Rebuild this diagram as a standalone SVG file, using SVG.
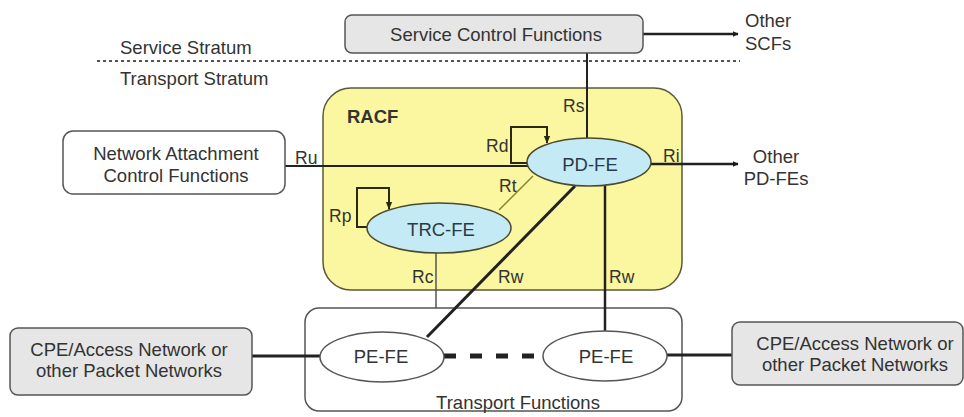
<svg xmlns="http://www.w3.org/2000/svg" width="964" height="417" viewBox="0 0 964 417">
<defs>
<marker id="arr" viewBox="0 0 10 10" refX="9" refY="5" markerWidth="6" markerHeight="6" orient="auto" markerUnits="userSpaceOnUse">
<path d="M0,0 L10,5 L0,10 z" fill="#1a1a1a"/>
</marker>
<marker id="arrs" viewBox="0 0 10 10" refX="9" refY="5" markerWidth="8" markerHeight="8" orient="auto" markerUnits="userSpaceOnUse">
<path d="M0,1 L10,5 L0,9 z" fill="#2a2a10"/>
</marker>
<style>
text{font-family:"Liberation Sans",Arial,sans-serif;font-size:18.5px;fill:#333;}
.lbl{font-size:17.5px;}
.mid{text-anchor:middle;}
.box{stroke:#555;stroke-width:1.5;}
.gray{fill:#e6e6e6;}
.white{fill:#fff;}
.ell{fill:#c4ebf5;stroke:#4a4a30;stroke-width:1.5;}
.pe{fill:#fff;stroke:#555;stroke-width:1.5;}
.ln{fill:none;stroke:#222;}
</style>
</defs>
<rect width="964" height="417" fill="#fff"/>

<g id="strata">
<line x1="97" y1="61" x2="740" y2="61" stroke="#555" stroke-width="2" stroke-dasharray="3 3"/>
<text x="120" y="54">Service Stratum</text>
<text x="120" y="85">Transport Stratum</text>
</g>

<g id="racf">
<rect x="323" y="88" width="359" height="202" rx="28" fill="#fbf6a0" stroke="#5a5a3a" stroke-width="1.5"/>
<text x="347" y="123" style="font-weight:bold">RACF</text>
</g>

<g id="transport">
<rect x="305" y="308" width="377" height="103" rx="14" class="box white"/>
<text x="518" y="409" class="mid">Transport Functions</text>
</g>

<g id="connectors">
<line x1="643" y1="34" x2="738" y2="34" class="ln" stroke-width="2.5" marker-end="url(#arr)"/>
<line x1="587" y1="53" x2="587" y2="139" class="ln" stroke-width="2"/>
<line x1="285" y1="166" x2="528" y2="166" class="ln" stroke-width="2"/>
<path d="M528,163 H511 V127 H547 V143" fill="none" stroke="#2a2a10" stroke-width="2" marker-end="url(#arrs)"/>
<path d="M368,227 H357 V188 H389 V209" fill="none" stroke="#2a2a10" stroke-width="2" marker-end="url(#arrs)"/>
<line x1="651" y1="164" x2="738" y2="164" class="ln" stroke-width="2.5" marker-end="url(#arr)"/>
<line x1="533" y1="176" x2="499" y2="210" stroke="#8a7f2a" stroke-width="1.5"/>
<line x1="575" y1="186" x2="427" y2="337" class="ln" stroke-width="3"/>
<line x1="605" y1="186" x2="605" y2="331" class="ln" stroke-width="2.5"/>
<line x1="436" y1="253" x2="436" y2="308" stroke="#555" stroke-width="1.5"/>
<line x1="252" y1="356" x2="320" y2="356" class="ln" stroke-width="3"/>
<line x1="667" y1="355" x2="732" y2="355" class="ln" stroke-width="3"/>
<line x1="444" y1="356" x2="543" y2="356" class="ln" stroke-width="5" stroke-dasharray="12 14"/>
<text x="295" y="164" class="lbl">Ru</text>
<text x="563" y="112" class="lbl">Rs</text>
<text x="486" y="152" class="lbl">Rd</text>
<text x="663" y="162" class="lbl">Ri</text>
<text x="499" y="192" class="lbl">Rt</text>
<text x="329" y="222" class="lbl">Rp</text>
<text x="412" y="283" class="lbl">Rc</text>
<text x="498" y="283" class="lbl">Rw</text>
<text x="609" y="283" class="lbl">Rw</text>
</g>

<g id="scf">
<rect x="345" y="15" width="298" height="38" rx="7" class="box gray"/>
<text x="496" y="41" class="mid">Service Control Functions</text>
</g>

<g id="other-scfs">
<text x="745" y="27">Other</text>
<text x="745" y="50">SCFs</text>
</g>

<g id="other-pdfes">
<text x="776" y="163" class="mid">Other</text>
<text x="776" y="185" class="mid">PD-FEs</text>
</g>

<g id="nacf">
<rect x="63" y="131" width="222" height="63" rx="10" class="box white"/>
<text x="176" y="160" class="mid">Network Attachment</text>
<text x="176" y="182" class="mid">Control Functions</text>
</g>

<g id="pd-fe">
<ellipse cx="589" cy="162" rx="62" ry="24" class="ell"/>
<text x="590" y="171" class="mid" style="fill:#2a3a4a">PD-FE</text>
</g>

<g id="trc-fe">
<ellipse cx="439" cy="228" rx="72" ry="25" class="ell"/>
<text x="441" y="236" class="mid" style="fill:#2a3a4a">TRC-FE</text>
</g>

<g id="pe-fe-left">
<ellipse cx="382" cy="357" rx="62" ry="25" class="pe"/>
<text x="381" y="363" class="mid">PE-FE</text>
</g>

<g id="pe-fe-right">
<ellipse cx="605" cy="356" rx="62" ry="25" class="pe"/>
<text x="606" y="363" class="mid">PE-FE</text>
</g>

<g id="cpe-left">
<rect x="10" y="328" width="242" height="67" rx="8" class="box gray"/>
<text x="129" y="356" class="mid">CPE/Access Network or</text>
<text x="129" y="377" class="mid">other Packet Networks</text>
</g>

<g id="cpe-right">
<rect x="732" y="322" width="231" height="63" rx="8" class="box gray"/>
<text x="855" y="350" class="mid">CPE/Access Network or</text>
<text x="855" y="371" class="mid">other Packet Networks</text>
</g>
</svg>
